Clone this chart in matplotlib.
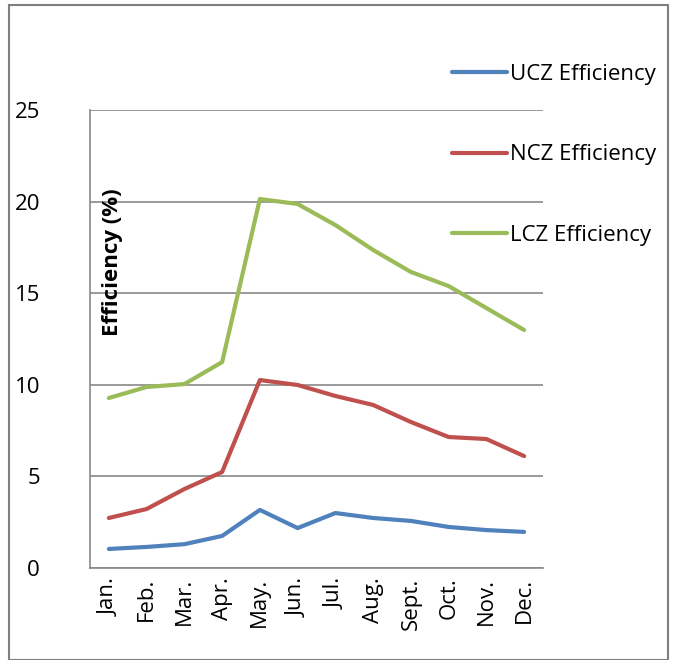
import matplotlib
matplotlib.use("Agg")
import matplotlib.pyplot as plt
from matplotlib.patches import Rectangle

months = ["Jan.", "Feb.", "Mar.", "Apr.", "May.", "Jun.", "Jul.", "Aug.", "Sept.", "Oct.", "Nov.", "Dec."]
ucz = [1.04, 1.15, 1.30, 1.75, 3.17, 2.18, 3.00, 2.73, 2.57, 2.24, 2.07, 1.97]
ncz = [2.73, 3.22, 4.31, 5.24, 10.26, 9.99, 9.39, 8.90, 7.97, 7.15, 7.04, 6.11]
lcz = [9.28, 9.88, 10.04, 11.24, 20.14, 19.87, 18.72, 17.36, 16.16, 15.39, 14.19, 12.99]
series_names = ["UCZ Efficiency", "NCZ Efficiency", "LCZ Efficiency"]
yticks = [0, 5, 10, 15, 20, 25]

plt.rcParams['font.family'] = ['Open Sans', 'DejaVu Sans']

W, H = 673, 660
FS = 16
fig = plt.figure(figsize=(W / 100, H / 100), dpi=100)
fig.patches.append(Rectangle((9 / W, 0), 659 / W, 1 - 5 / H, transform=fig.transFigure,
                             fill=False, edgecolor="#7f7f7f", linewidth=1.5))

ax = fig.add_axes([90 / W, 1 - 568 / H, 453 / W, 458 / H])
x = list(range(len(months)))
colors = ["#4F81BD", "#C0504D", "#9BBB59"]
lines = []
for vals, c, name in zip([ucz, ncz, lcz], colors, series_names):
    l, = ax.plot(x, vals, color=c, linewidth=3, label=name, solid_capstyle="round")
    lines.append(l)

ax.set_xlim(-0.5, len(months) - 0.5)
ax.set_ylim(0, 25)
ax.set_yticks(yticks)
ax.set_xticks(x)
ax.set_xticklabels(months, rotation=90, fontsize=FS)
ax.tick_params(axis="y", labelsize=FS, length=0, pad=36)
ax.tick_params(axis="x", length=0, pad=7)
ax.grid(axis="y", color="#898989", linewidth=1.2)
ax.set_axisbelow(True)
for s in ["top", "right"]:
    ax.spines[s].set_visible(False)
for s in ["left", "bottom"]:
    ax.spines[s].set_color("#898989")
    ax.spines[s].set_linewidth(1.2)

fig.text(113 / W, 1 - 262 / H, "Efficiency (%)", rotation=90, ha="center", va="center",
         fontsize=FS, fontweight="bold")

fig.legend(handles=lines, labels=series_names, loc="upper left",
           bbox_to_anchor=(443 / W, 1 - 55 / H), frameon=False, fontsize=FS,
           handlelength=2.5, handletextpad=0.12, labelspacing=2.68, borderaxespad=0)

fig.savefig("out.png", dpi=100)
